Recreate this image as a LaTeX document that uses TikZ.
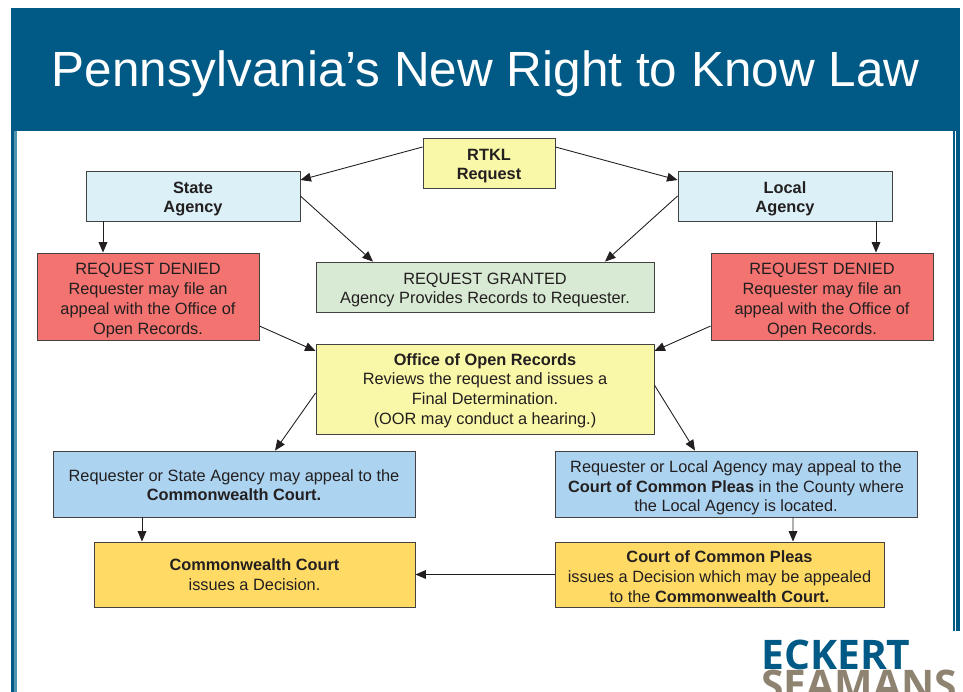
\documentclass[tikz,border=0pt]{standalone}
\usepackage{fontspec}
\setmainfont{Liberation Sans}
\newfontfamily\logofont{Open Sans}
\usetikzlibrary{arrows.meta}

\definecolor{bandblue}{HTML}{005A85}
\definecolor{edgeblue}{HTML}{4F93B3}
\definecolor{inkgray}{HTML}{231F20}
\definecolor{paleyellow}{HTML}{F9F7A8}
\definecolor{paleblue}{HTML}{DBF0F7}
\definecolor{denyred}{HTML}{F37370}
\definecolor{palegreen}{HTML}{D8EAD3}
\definecolor{appealblue}{HTML}{ACD3F0}
\definecolor{courtgold}{HTML}{FFDB66}
\definecolor{logogray}{HTML}{8E8270}

\tikzset{
  box/.style={draw=inkgray!85, line width=0.5pt, align=center, text=inkgray, inner sep=0pt,
    text depth=0pt, font=\fontsize{9.3}{11.3}\selectfont},
  link/.style={draw=inkgray, line width=0.5pt, -{Triangle[length=6pt,width=5pt]}}
}

\begin{document}
\begin{tikzpicture}[x=0.02cm, y=-0.02cm]
    \useasboundingbox (0,0) rectangle (963,692);
    % frame
    \fill [bandblue] (10.5,131) rectangle (14,692);
    \fill [edgeblue] (14,131) rectangle (16.5,692);
    \fill [bandblue] (953,131) rectangle (954.5,631);
    \fill [bandblue] (955.5,131) rectangle (959.5,631);
    \fill [bandblue] (10.5,8) rectangle (959.5,131);
    \node [text=white, inner sep=0pt, font=\fontsize{28.15}{34}\selectfont] (title) at (485.5,74) {Pennsylvania’s New Right to Know Law};

    % boxes
    \node [box, text height=19.3pt, fill=paleyellow, minimum width=2.64cm, minimum height=1cm] (rtkl) at (489,163) {\bfseries RTKL\\\bfseries Request};
    \node [box, text height=19.3pt, fill=paleblue, minimum width=4.28cm, minimum height=1cm] (state) at (193,196) {\bfseries State\\\bfseries Agency};
    \node [box, text height=19.3pt, fill=paleblue, minimum width=4.28cm, minimum height=1cm] (local) at (785,196) {\bfseries Local\\\bfseries Agency};
    \node [box, text height=43.1pt, fill=denyred, minimum width=4.44cm, minimum height=1.74cm] (deniedl) at (148,296.5) {REQUEST DENIED\\Requester may file an\\appeal with the Office of\\Open Records.};
    \node [box, text height=19.3pt, fill=palegreen, minimum width=6.76cm, minimum height=1cm] (granted) at (485,287) {REQUEST GRANTED\\Agency Provides Records to Requester.};
    \node [box, text height=43.1pt, fill=denyred, minimum width=4.44cm, minimum height=1.74cm] (deniedr) at (822,296.5) {REQUEST DENIED\\Requester may file an\\appeal with the Office of\\Open Records.};
    \node [box, fill=paleyellow, minimum width=6.76cm, minimum height=1.8cm] (oor) at (485,389) {\bfseries Office of Open Records\\Reviews the request and issues a\\Final Determination.\\(OOR may conduct a hearing.)};
    \node [box, text height=19.3pt, fill=appealblue, minimum width=7.24cm, minimum height=1.32cm] (appeall) at (234,484) {Requester or State Agency may appeal to the\\\bfseries Commonwealth Court.};
    \node [box, text height=31.8pt, fill=appealblue, minimum width=7.24cm, minimum height=1.32cm] (appealr) at (736,484) {Requester or Local Agency may appeal to the\\\textbf{Court of Common Pleas} in the County where\\the Local Agency is located.};
    \node [box, fill=courtgold, minimum width=6.42cm, minimum height=1.3cm] (cc) at (254.5,574.5) {\bfseries Commonwealth Court\\issues a Decision.};
    \node [box, text height=31.8pt, fill=courtgold, minimum width=6.58cm, minimum height=1.3cm] (ccp) at (719.5,574.5) {\textbf{Court of Common Pleas}\\issues a Decision which may be appealed\\to the \textbf{Commonwealth Court.}};

    % arrows
    \draw [link] ([shift={(0,-16)}]rtkl.west) -- ([shift={(0,-16)}]state.east);
    \draw [link] ([shift={(0,-16)}]rtkl.east) -- ([shift={(0,-16)}]local.west);
    \draw [link] (state.east) -- ([shift={(-112,0)}]granted.north);
    \draw [link] (local.west) -- ([shift={(120,0)}]granted.north);
    \draw [link] ([shift={(-90,0)}]state.south) -- ([shift={(-45,0)}]deniedl.north);
    \draw [link] ([shift={(91,0)}]local.south) -- ([shift={(54,0)}]deniedr.north);
    \draw [link] ([shift={(0,29.5)}]deniedl.east) -- ([shift={(0,-38)}]oor.west);
    \draw [link] ([shift={(0,29.5)}]deniedr.west) -- ([shift={(0,-38)}]oor.east);
    \draw [link] ([shift={(0,4)}]oor.west) -- ([shift={(41,0)}]appeall.north);
    \draw [link] ([shift={(0,-4)}]oor.east) -- ([shift={(-41,0)}]appealr.north);
    \draw [link] ([shift={(-92,0)}]appeall.south) -- ([shift={(-112.5,0)}]cc.north);
    \draw [link] ([shift={(57,0)}]appealr.south) -- ([shift={(73.5,0)}]ccp.north);
    \draw [link] (ccp.west) -- (cc.east);

    % logo
    \begin{scope}
      \clip (0,0) rectangle (963,692);
      \node [anchor=base west, inner sep=0pt, text=logogray, font=\logofont\bfseries\fontsize{23.2}{28}\selectfont] (seamans) at (761,699.5) {SEAMANS};
      \node [anchor=base west, inner sep=0pt, text=bandblue, font=\logofont\bfseries\fontsize{23.2}{28}\selectfont] (eckert) at (761,669.5) {ECKERT};
    \end{scope}
  \end{tikzpicture}
\end{document}
